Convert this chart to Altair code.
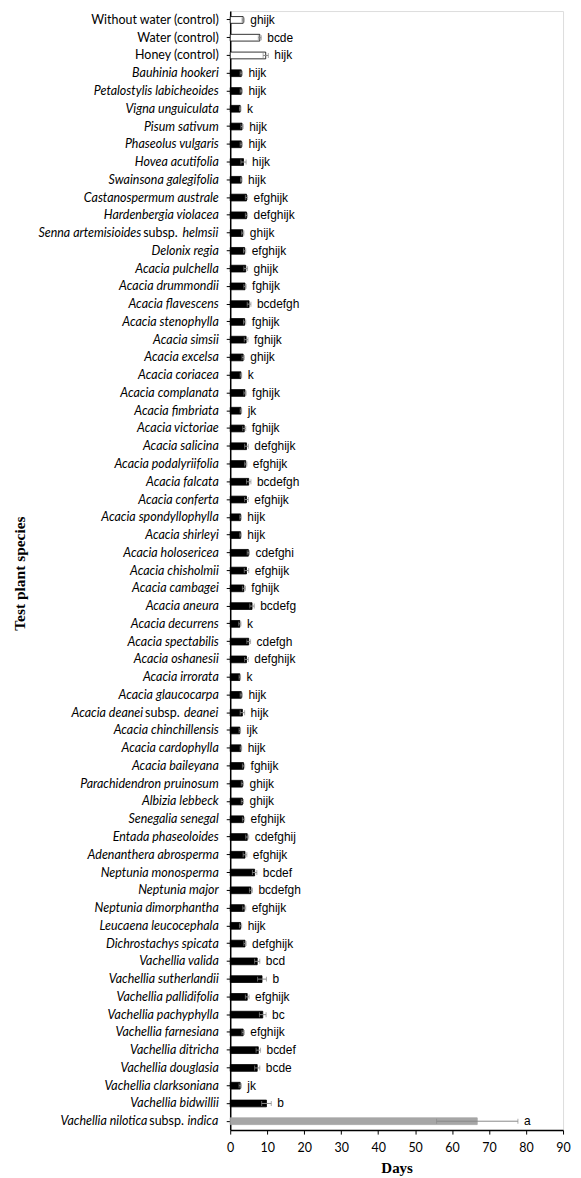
import altair as alt
import pandas as pd

species = [
    "Without water (control)", "Water (control)", "Honey (control)",
    "Bauhinia hookeri", "Petalostylis labicheoides", "Vigna unguiculata",
    "Pisum sativum", "Phaseolus vulgaris", "Hovea acutifolia",
    "Swainsona galegifolia", "Castanospermum australe", "Hardenbergia violacea",
    "Senna artemisioides subsp. helmsii", "Delonix regia", "Acacia pulchella",
    "Acacia drummondii", "Acacia flavescens", "Acacia stenophylla",
    "Acacia simsii", "Acacia excelsa", "Acacia coriacea",
    "Acacia complanata", "Acacia fimbriata", "Acacia victoriae",
    "Acacia salicina", "Acacia podalyriifolia", "Acacia falcata",
    "Acacia conferta", "Acacia spondyllophylla", "Acacia shirleyi",
    "Acacia holosericea", "Acacia chisholmii", "Acacia cambagei",
    "Acacia aneura", "Acacia decurrens", "Acacia spectabilis",
    "Acacia oshanesii", "Acacia irrorata", "Acacia glaucocarpa",
    "Acacia deanei subsp. deanei", "Acacia chinchillensis", "Acacia cardophylla",
    "Acacia baileyana", "Parachidendron pruinosum", "Albizia lebbeck",
    "Senegalia senegal", "Entada phaseoloides", "Adenanthera abrosperma",
    "Neptunia monosperma", "Neptunia major", "Neptunia dimorphantha",
    "Leucaena leucocephala", "Dichrostachys spicata", "Vachellia valida",
    "Vachellia sutherlandii", "Vachellia pallidifolia", "Vachellia pachyphylla",
    "Vachellia farnesiana", "Vachellia ditricha", "Vachellia douglasia",
    "Vachellia clarksoniana", "Vachellia bidwillii", "Vachellia nilotica subsp. indica",
]

means = [
    3.5, 8.0, 9.6,
    3.0, 3.0, 2.7,
    3.2, 3.0, 3.6,
    3.0, 4.4, 4.4,
    3.4, 3.9, 4.2,
    4.0, 5.1, 3.9,
    4.3, 3.5, 2.9,
    4.0, 2.9, 3.8,
    4.4, 4.2, 5.0,
    4.4, 2.8, 2.8,
    4.9, 4.4, 3.7,
    5.9, 2.6, 5.0,
    4.4, 2.6, 3.0,
    3.3, 2.6, 2.9,
    3.6, 3.3, 3.3,
    3.6, 4.6, 4.0,
    6.6, 5.6, 3.8,
    2.8, 4.0, 7.3,
    8.6, 4.6, 8.8,
    3.5, 7.6, 7.3,
    2.7, 9.8, 66.8,
]

ses = [
    0.3, 0.4, 0.7,
    0.3, 0.3, 0.2,
    0.3, 0.3, 0.7,
    0.2, 0.3, 0.3,
    0.3, 0.3, 0.5,
    0.3, 0.5, 0.3,
    0.5, 0.3, 0.2,
    0.3, 0.2, 0.4,
    0.5, 0.3, 0.6,
    0.5, 0.2, 0.2,
    0.3, 0.6, 0.4,
    0.6, 0.3, 0.5,
    0.5, 0.2, 0.3,
    0.6, 0.2, 0.2,
    0.3, 0.3, 0.3,
    0.3, 0.4, 0.5,
    0.6, 0.4, 0.4,
    0.3, 0.3, 0.7,
    1.2, 0.5, 0.9,
    0.3, 0.6, 0.7,
    0.3, 1.3, 11.0,
]

letters = [
    "ghijk", "bcde", "hijk",
    "hijk", "hijk", "k",
    "hijk", "hijk", "hijk",
    "hijk", "efghijk", "defghijk",
    "ghijk", "efghijk", "ghijk",
    "fghijk", "bcdefgh", "fghijk",
    "fghijk", "ghijk", "k",
    "fghijk", "jk", "fghijk",
    "defghijk", "efghijk", "bcdefgh",
    "efghijk", "hijk", "hijk",
    "cdefghi", "efghijk", "fghijk",
    "bcdefg", "k", "cdefgh",
    "defghijk", "k", "hijk",
    "hijk", "ijk", "hijk",
    "fghijk", "ghijk", "ghijk",
    "efghijk", "cdefghij", "efghijk",
    "bcdef", "bcdefgh", "efghijk",
    "hijk", "defghijk", "bcd",
    "b", "efghijk", "bc",
    "efghijk", "bcdef", "bcde",
    "jk", "b", "a",
]

x_ticks = [0, 10, 20, 30, 40, 50, 60, 70, 80, 90]

kinds = ["control" if "(control)" in s else ("nilotica" if "nilotica" in s else "species")
         for s in species]

df = pd.DataFrame({
    "species": species,
    "mean": means,
    "se": ses,
    "letter": letters,
    "kind": kinds,
})
df["lo"] = df["mean"] - df["se"]
df["hi"] = df["mean"] + df["se"]

# Labels that mix italic names with an upright "subsp."
mixed = [
    ("Senna artemisioides subsp. helmsii", "Senna artemisioides", "helmsii"),
    ("Acacia deanei subsp. deanei", "Acacia deanei", "deanei"),
    ("Vachellia nilotica subsp. indica", "Vachellia nilotica", "indica"),
]

LABEL_FONT = "Lato"
LABEL_SIZE = 12.5
CH = {
    "a": .51, "b": .56, "c": .46, "d": .56, "e": .52, "f": .33, "g": .50, "h": .56,
    "i": .24, "j": .24, "k": .50, "l": .24, "m": .84, "n": .56, "o": .56, "p": .56,
    "q": .56, "r": .37, "s": .42, "t": .35, "u": .56, "v": .50, "w": .77, "x": .49,
    "y": .50, "z": .45, " ": .19, ".": .22,
}


def tw(s):
    return sum(CH.get(c, 0.6) for c in s) * LABEL_SIZE


sort_order = species
yscale = alt.Scale(paddingInner=0.62, paddingOuter=0.31)
xscale = alt.Scale(domain=[0, 90], nice=False)

y_main = alt.Y(
    "species:N", sort=sort_order, scale=yscale,
    axis=alt.Axis(
        title="Test plant species",
        titleFont="Liberation Serif", titleFontWeight="bold", titleFontSize=15.5,
        titleColor="black", titleX=-211, titleY=564, titleAlign="center",
        titleBaseline="middle",
        labelFont=LABEL_FONT, labelFontSize=LABEL_SIZE, labelColor="black",
        labelFontStyle={"condition": {"test": "indexof(datum.value, '(control)') >= 0",
                                      "value": "normal"}, "value": "italic"},
        labelExpr="indexof(datum.value, 'subsp.') >= 0 ? '' : datum.label",
        labelLimit=300, tickSize=4, labelPadding=8,
        domainColor="black", domainWidth=1.5, tickColor="black",
    ),
)
y_plain = alt.Y("species:N", sort=sort_order, scale=yscale)

x_main = alt.X(
    "mean:Q", scale=xscale,
    axis=alt.Axis(
        values=x_ticks, tickCount=10, title="Days", grid=False,
        titleFont="Liberation Serif", titleFontWeight="bold", titleFontSize=15,
        titleColor="black", titleY=38, titleBaseline="middle",
        labelFont=LABEL_FONT, labelFontSize=12.5, labelColor="black",
        labelOverlap=False, labelFlush=False, labelSeparation=0,
        tickSize=4, labelPadding=7, domainColor="black", domainWidth=1.5,
        tickColor="black",
    ),
)

base = alt.Chart(df)

bars = base.mark_bar(strokeWidth=0.8).encode(
    x=x_main,
    y=y_main,
    fill=alt.Fill("kind:N", scale=alt.Scale(domain=["control", "species", "nilotica"],
                                            range=["white", "black", "#a6a6a6"]), legend=None),
    stroke=alt.Stroke("kind:N", scale=alt.Scale(domain=["control", "species", "nilotica"],
                                                range=["black", "black", "#a6a6a6"]), legend=None),
)

err = base.mark_rule(color="#8a8a8a", strokeWidth=1).encode(
    x=alt.X("lo:Q", scale=xscale), x2="hi:Q", y=y_plain)
cap_lo = base.mark_tick(color="#8a8a8a", thickness=1, size=5).encode(
    x=alt.X("lo:Q", scale=xscale), y=y_plain)
cap_hi = base.mark_tick(color="#8a8a8a", thickness=1, size=5).encode(
    x=alt.X("hi:Q", scale=xscale), y=y_plain)

text = base.mark_text(align="left", baseline="middle", dx=6, font="Liberation Sans",
                      fontSize=12, color="black").encode(
    x=alt.X("hi:Q", scale=xscale), y=y_plain, text="letter:N")

layers = [bars, err, cap_lo, cap_hi, text]

x_end = -12
for full, first, last in mixed:
    sub = base.transform_filter(alt.datum.species == full)
    w_last = tw(last)
    w_sp = tw(" ")
    w_subsp = tw("subsp.")
    layers.append(sub.mark_text(align="right", baseline="middle", font=LABEL_FONT,
                                fontSize=LABEL_SIZE, fontStyle="italic", color="black").encode(
        x=alt.value(x_end), y=y_plain, text=alt.value(last)))
    layers.append(sub.mark_text(align="right", baseline="middle", font=LABEL_FONT,
                                fontSize=LABEL_SIZE, color="black").encode(
        x=alt.value(x_end - w_last - w_sp), y=y_plain, text=alt.value("subsp.")))
    layers.append(sub.mark_text(align="right", baseline="middle", font=LABEL_FONT,
                                fontSize=LABEL_SIZE, fontStyle="italic", color="black").encode(
        x=alt.value(x_end - w_last - w_sp - w_subsp - w_sp), y=y_plain, text=alt.value(first)))

chart = alt.layer(*layers).properties(
    width=334, height=1123,
    padding={"left": 223, "top": 1, "right": 10, "bottom": 46},
    autosize=alt.AutoSizeParams(type="none"),
).configure_view(stroke="#444", strokeWidth=1).configure_axisX(
    labelOverlap=False, labelSeparation=0
).configure(background="white")

chart.save("out.html", embed_options={"renderer": "svg", "actions": False})
